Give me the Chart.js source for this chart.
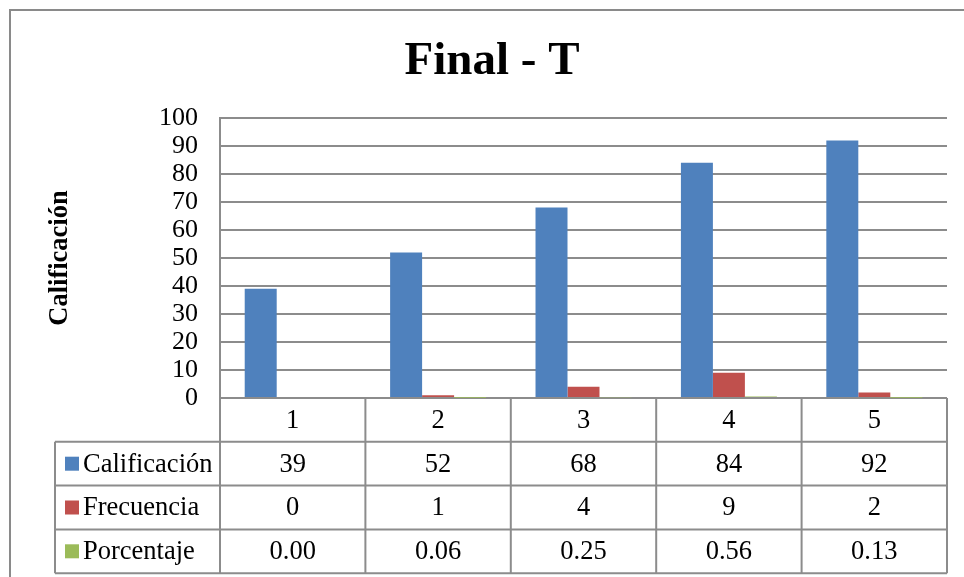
<!DOCTYPE html>
<html>
<head>
<meta charset="utf-8">
<script src="https://cdn.jsdelivr.net/npm/chart.js@4"></script>
<style>
  html, body { margin: 0; padding: 0; background: #ffffff; }
  #wrap { width: 964px; height: 577px; }
</style>
</head>
<body>
<div id="wrap"><canvas id="c" width="964" height="577"></canvas></div>
<script>
// Data
const categories = ['1', '2', '3', '4', '5'];
const calificacion = [39, 52, 68, 84, 92];
const frecuencia = [0, 1, 4, 9, 2];
const porcentaje = [0.00, 0.06, 0.25, 0.56, 0.13];
const seriesNames = ['Calificación', 'Frecuencia', 'Porcentaje'];
const seriesDecimals = [0, 0, 2];
const yMin = 0, yMax = 100, yStep = 10;

const FONT = "'Liberation Serif', 'Times New Roman', serif";
const LINE = '#8c8c8c';
const COLORS = ['#4f81bd', '#c0504d', '#9bbb59'];

// Outer frame of the chart object
const framePlugin = {
  id: 'frame',
  beforeDraw(chart) {
    const ctx = chart.ctx;
    ctx.save();
    ctx.fillStyle = '#ffffff';
    ctx.fillRect(0, 0, chart.width, chart.height);
    ctx.strokeStyle = '#8a8a8a';
    ctx.lineWidth = 2;
    ctx.beginPath();
    ctx.moveTo(10, chart.height);
    ctx.lineTo(10, 10);
    ctx.lineTo(chart.width, 10);
    ctx.stroke();
    ctx.restore();
  }
};

// Data table under the plot: category row + one row per series with legend keys
const dataTablePlugin = {
  id: 'dataTable',
  afterDraw(chart) {
    const ctx = chart.ctx;
    const xs = chart.scales.x;
    const area = chart.chartArea;
    const rowH = 43.8;
    const top = area.bottom;
    const legendLeft = 55;
    const n = categories.length;
    const half = (xs.getPixelForValue(1) - xs.getPixelForValue(0)) / 2;
    const bounds = [];
    for (let i = 0; i < n; i++) bounds.push(xs.getPixelForValue(i) - half);
    bounds.push(xs.getPixelForValue(n - 1) + half);
    const rows = chart.data.datasets.length + 1;
    const bottom = top + rows * rowH;

    ctx.save();
    ctx.strokeStyle = LINE;
    ctx.lineWidth = 2;
    ctx.beginPath();
    // horizontal rules
    for (let r = 1; r <= rows; r++) {
      const y = top + r * rowH;
      ctx.moveTo(legendLeft, y);
      ctx.lineTo(bounds[n], y);
    }
    // column rules
    for (let i = 0; i <= n; i++) {
      ctx.moveTo(bounds[i], top);
      ctx.lineTo(bounds[i], bottom);
    }
    // left edge of the legend column
    ctx.moveTo(legendLeft, top + rowH);
    ctx.lineTo(legendLeft, bottom);
    ctx.stroke();

    ctx.fillStyle = '#000000';
    ctx.font = '26.5px ' + FONT;
    ctx.textBaseline = 'middle';
    ctx.textAlign = 'center';
    // category header row
    categories.forEach((c, i) => {
      ctx.fillText(c, xs.getPixelForValue(i), top + rowH / 2 + 1);
    });
    // series rows
    chart.data.datasets.forEach((ds, r) => {
      const yc = top + (r + 1) * rowH + rowH / 2 + 1;
      ctx.fillStyle = ds.backgroundColor;
      ctx.fillRect(65, yc - 8, 14, 14);
      ctx.fillStyle = '#000000';
      ctx.textAlign = 'left';
      ctx.fillText(ds.label, 83, yc);
      ctx.textAlign = 'center';
      ds.data.forEach((v, i) => {
        ctx.fillText(v.toFixed(seriesDecimals[r]), xs.getPixelForValue(i), yc);
      });
    });
    ctx.restore();
  }
};

new Chart(document.getElementById('c'), {
  type: 'bar',
  data: {
    labels: categories,
    datasets: [
      { label: seriesNames[0], data: calificacion, backgroundColor: COLORS[0] },
      { label: seriesNames[1], data: frecuencia, backgroundColor: COLORS[1] },
      { label: seriesNames[2], data: porcentaje, backgroundColor: COLORS[2] }
    ]
  },
  options: {
    responsive: false,
    animation: false,
    layout: { padding: { left: 37, right: 17, top: 0, bottom: 0 } },
    datasets: {
      bar: { categoryPercentage: 0.66, barPercentage: 1.0, borderWidth: 0 }
    },
    plugins: {
      legend: { display: false },
      tooltip: { enabled: false },
      title: {
        display: true,
        text: 'Final - T',
        color: '#000000',
        font: { family: FONT, size: 47, weight: 'bold', lineHeight: 1.2 },
        padding: { top: 34, bottom: 27.6 }
      }
    },
    scales: {
      x: {
        grid: { display: false },
        border: { display: false },
        ticks: { display: false },
        afterFit(scale) { scale.height = 179; }
      },
      y: {
        min: yMin,
        max: yMax,
        ticks: {
          stepSize: yStep,
          autoSkip: false,
          color: '#000000',
          padding: 22,
          font: { family: FONT, size: 26 }
        },
        grid: { color: LINE, lineWidth: 2, drawTicks: false },
        border: { display: true, color: LINE, width: 2 },
        title: {
          display: true,
          text: 'Calificación',
          color: '#000000',
          font: { family: FONT, size: 26.5, weight: 'bold', lineHeight: 1.2 },
          padding: { top: 7, bottom: 0 }
        },
        afterFit(scale) { scale.width = 183; }
      }
    }
  },
  plugins: [framePlugin, dataTablePlugin]
});
</script>
</body>
</html>
